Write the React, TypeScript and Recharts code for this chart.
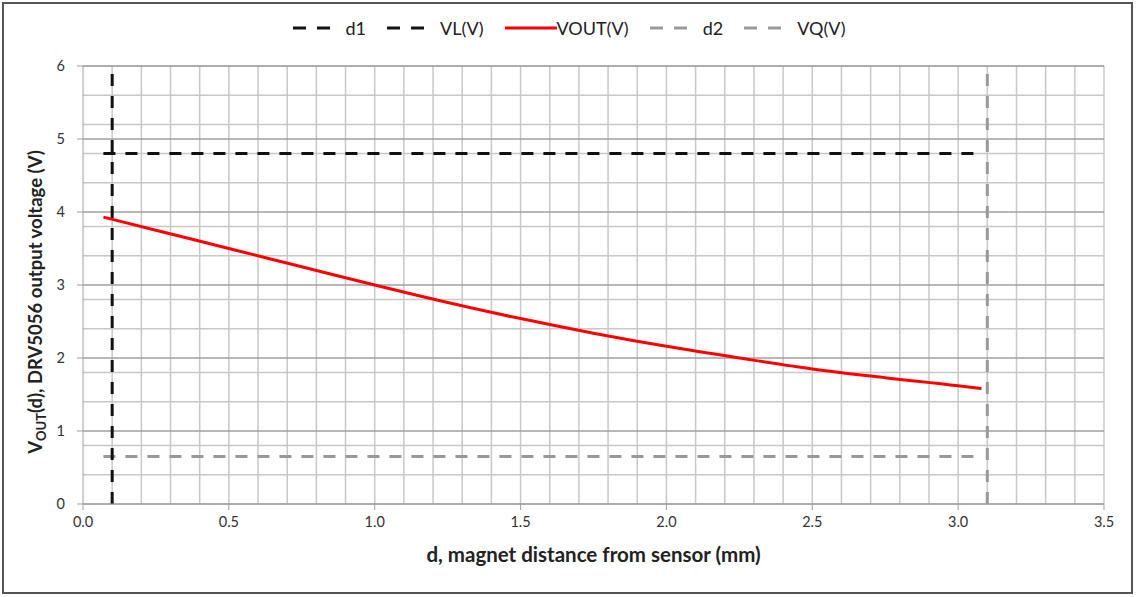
import {
  CartesianGrid,
  ComposedChart,
  Line,
  XAxis,
  YAxis,
} from "recharts"

const W = 1138
const H = 597
const FONT = "Lato, 'Open Sans', sans-serif"

const xTicks = [0, 0.5, 1, 1.5, 2, 2.5, 3, 3.5]
const yTicks = [0, 1, 2, 3, 4, 5, 6]
const xMinor = [
  0.1, 0.2, 0.3, 0.4, 0.5, 0.6, 0.7, 0.8, 0.9, 1.0, 1.1, 1.2, 1.3, 1.4, 1.5, 1.6, 1.7,
  1.8, 1.9, 2.0, 2.1, 2.2, 2.3, 2.4, 2.5, 2.6, 2.7, 2.8, 2.9, 3.0, 3.1, 3.2, 3.3, 3.4, 3.5,
]
const yMinor = [
  0.2, 0.4, 0.6, 0.8, 1.2, 1.4, 1.6, 1.8, 2.2, 2.4, 2.6, 2.8, 3.2, 3.4, 3.6, 3.8, 4.2,
  4.4, 4.6, 4.8, 5.2, 5.4, 5.6, 5.8, 6,
]

// VOUT(V)
const voutX = [0.07, 0.25, 0.5, 0.75, 1.0, 1.25, 1.5, 1.75, 2.0, 2.25, 2.5, 2.75, 3.0, 3.08]
const voutY = [3.93, 3.75, 3.5, 3.25, 3.0, 2.76, 2.54, 2.34, 2.16, 2.0, 1.85, 1.73, 1.62, 1.58]

const d1X = [0.1, 0.1]
const d1Y = [0, 6]
const vlX = [0.07, 3.08]
const vlY = [4.8, 4.8]
const d2X = [3.1, 3.1]
const d2Y = [0, 6]
const vqX = [0.07, 3.08]
const vqY = [0.65, 0.65]

const toRows = (xs: number[], ys: number[]) => xs.map((x, i) => ({ x, y: ys[i] }))

const legendItems = [
  { name: "d1", color: "#111", dash: true },
  { name: "VL(V)", color: "#111", dash: true },
  { name: "VOUT(V)", color: "#ff0000", dash: false },
  { name: "d2", color: "#999", dash: true },
  { name: "VQ(V)", color: "#999", dash: true },
]

function LegendRow() {
  return (
    <div
      style={{
        position: "absolute",
        top: 17,
        left: 0,
        width: W,
        display: "flex",
        justifyContent: "center",
        gap: 21,
        fontFamily: FONT,
        fontSize: 18,
        color: "#222",
      }}
    >
      {legendItems.map((it) => (
        <div key={it.name} style={{ display: "flex", alignItems: "center", gap: it.dash ? 16 : 0 }}>
          <svg width={it.dash ? 37 : 52} height={8}>
            <line
              x1={0}
              y1={4}
              x2={it.dash ? 37 : 52}
              y2={4}
              stroke={it.color}
              strokeWidth={3}
              strokeDasharray={it.dash ? "13 11" : undefined}
            />
          </svg>
          <span>{it.name}</span>
        </div>
      ))}
    </div>
  )
}

export default function App() {
  return (
    <div style={{ position: "absolute", left: 0, top: 0, width: W, height: H, background: "#fff" }}>
      <div
        style={{
          position: "absolute",
          left: 2,
          top: 2,
          width: 1131,
          height: 592,
          boxSizing: "border-box",
          border: "2px solid #555",
        }}
      />
      <LegendRow />
      <div style={{ position: "absolute", left: 0, top: 0 }}>
        <ComposedChart width={W} height={H} margin={{ top: 66, right: 34, bottom: 0, left: 0 }}>
          <CartesianGrid
            stroke="#c8c8c8"
            strokeWidth={1.5}
            verticalValues={xMinor}
            horizontalValues={yMinor}
          />
          <CartesianGrid
            stroke="#a0a0a0"
            strokeWidth={1.5}
            vertical={false}
            horizontalValues={yTicks}
          />
          <XAxis
            type="number"
            dataKey="x"
            domain={[0, 3.5]}
            ticks={xTicks}
            allowDuplicatedCategory={false}
            tickFormatter={(v) => Number(v).toFixed(1)}
            height={93}
            stroke="#a0a0a0"
            tickSize={6}
            tickMargin={7}
            tick={{ fontSize: 14.5, fill: "#333", fontFamily: FONT }}
            label={{
              value: "d, magnet distance from sensor (mm)",
              position: "insideTop",
              offset: 43,
              fill: "#222",
              fontSize: 20.5,
              fontWeight: "bold",
              fontFamily: FONT,
            }}
          />
          <YAxis
            type="number"
            dataKey="y"
            domain={[0, 6]}
            ticks={yTicks}
            width={83}
            stroke="#a0a0a0"
            tickSize={6}
            tickMargin={12}
            tick={{ fontSize: 14.5, fill: "#333", fontFamily: FONT }}
            label={{
              content: () => (
                <text
                  transform="translate(42,302) rotate(-90)"
                  textAnchor="middle"
                  fill="#222"
                  fontSize={18.5}
                  fontWeight="bold"
                  fontFamily={FONT}
                >
                  V
                  <tspan fontSize={13} dy={4}>OUT</tspan>
                  <tspan dy={-4}>(d), DRV5056 output voltage (V)</tspan>
                </text>
              ),
            }}
          />
          <Line
            data={toRows(vqX, vqY)}
            dataKey="y"
            stroke="#999"
            strokeWidth={3}
            strokeDasharray="12 10"
            dot={false}
            isAnimationActive={false}
          />
          <Line
            data={toRows(d2X, d2Y)}
            dataKey="y"
            stroke="#999"
            strokeWidth={3}
            strokeDasharray="12 10"
            dot={false}
            isAnimationActive={false}
          />
          <Line
            data={toRows(vlX, vlY)}
            dataKey="y"
            stroke="#111"
            strokeWidth={3}
            strokeDasharray="12 10"
            dot={false}
            isAnimationActive={false}
          />
          <Line
            data={toRows(d1X, d1Y)}
            dataKey="y"
            stroke="#111"
            strokeWidth={3}
            strokeDasharray="12 10"
            dot={false}
            isAnimationActive={false}
          />
          <Line
            data={toRows(voutX, voutY)}
            type="monotone"
            dataKey="y"
            stroke="#ff0000"
            strokeWidth={3}
            dot={false}
            isAnimationActive={false}
          />
        </ComposedChart>
      </div>
    </div>
  )
}
